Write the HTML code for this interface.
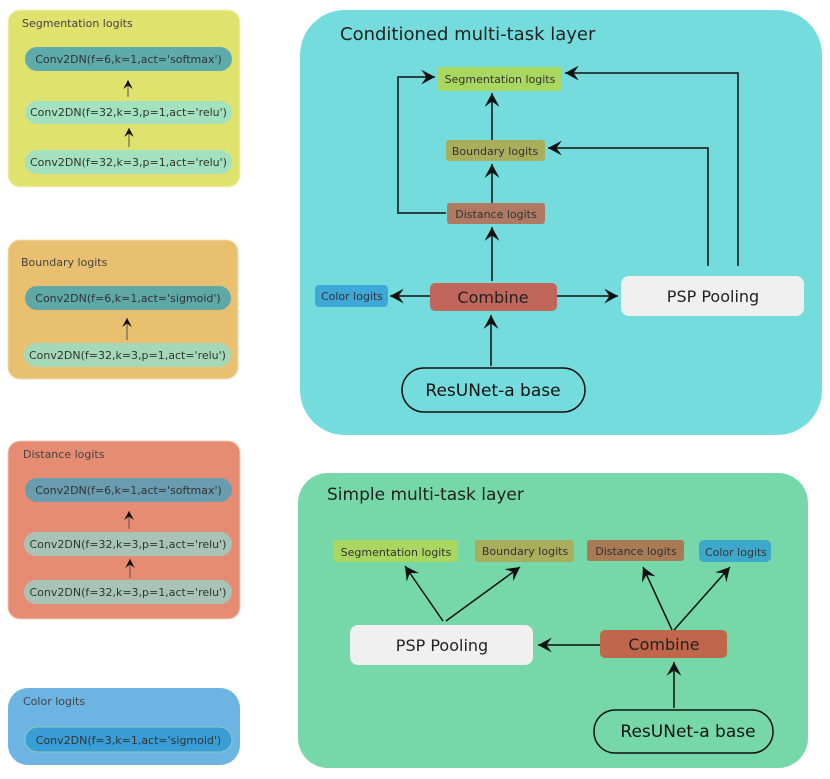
<!DOCTYPE html>
<html><head><meta charset="utf-8"><style>
html,body{margin:0;padding:0;background:#fff;}
svg{display:block;font-family:"DejaVu Sans","Liberation Sans",sans-serif;}
</style></head><body>
<svg width="830" height="779" viewBox="0 0 830 779" xmlns="http://www.w3.org/2000/svg">
<defs>
<marker id="a" viewBox="-14 -8 16 16" refX="0" refY="0" markerWidth="17" markerHeight="17" markerUnits="userSpaceOnUse" orient="auto">
<path d="M0,0 L-13,-7 L-8,0 L-13,7 Z" fill="#111"/>
</marker>
<marker id="s" viewBox="-14 -8 16 16" refX="0" refY="0" markerWidth="11" markerHeight="11" markerUnits="userSpaceOnUse" orient="auto">
<path d="M0,0 L-13,-7 L-8,0 L-13,7 Z" fill="#111"/>
</marker>
</defs>
<g font-size="11" fill="#333">
<rect x="8" y="10" width="232" height="177" rx="12" fill="#dfe36d" stroke="#f0f2c0"/>
<text x="22" y="27" fill="#444">Segmentation logits</text>
<rect x="25" y="47" width="207" height="24" rx="12" fill="#5eabab"/>
<text x="128.5" y="63" text-anchor="middle" fill="#333">Conv2DN(f=6,k=1,act='softmax')</text>
<rect x="25" y="101" width="207" height="23" rx="11.5" fill="#a4e2bf"/>
<text x="128.5" y="116" text-anchor="middle">Conv2DN(f=32,k=3,p=1,act='relu')</text>
<rect x="25" y="150" width="207" height="24" rx="12" fill="#a4e2bf"/>
<text x="128.5" y="166" text-anchor="middle">Conv2DN(f=32,k=3,p=1,act='relu')</text>
<line x1="128" y1="97" x2="128" y2="80" stroke="#555" marker-end="url(#s)"/>
<line x1="129" y1="147" x2="129" y2="128" stroke="#555" marker-end="url(#s)"/>
<rect x="8" y="240" width="230" height="139" rx="12" fill="#e8c070" stroke="#f3dcb0"/>
<text x="21" y="266" fill="#444">Boundary logits</text>
<rect x="25" y="286" width="206" height="24" rx="12" fill="#5fa8a8"/>
<text x="128" y="302" text-anchor="middle">Conv2DN(f=6,k=1,act='sigmoid')</text>
<rect x="24" y="343" width="207" height="24" rx="12" fill="#a4d8b8"/>
<text x="127.5" y="359" text-anchor="middle">Conv2DN(f=32,k=3,p=1,act='relu')</text>
<line x1="127" y1="340" x2="127" y2="318" stroke="#555" marker-end="url(#s)"/>
<rect x="8" y="441" width="232" height="178" rx="12" fill="#e68c72" stroke="#f3c8b8"/>
<text x="23" y="458" fill="#444">Distance logits</text>
<rect x="25" y="478" width="207" height="24" rx="12" fill="#6a9cb0"/>
<text x="128.5" y="494" text-anchor="middle">Conv2DN(f=6,k=1,act='softmax')</text>
<rect x="24" y="532" width="208" height="24" rx="12" fill="#a8c4b8"/>
<text x="128" y="548" text-anchor="middle">Conv2DN(f=32,k=3,p=1,act='relu')</text>
<rect x="24" y="580" width="208" height="24" rx="12" fill="#a8c4b8"/>
<text x="128" y="596" text-anchor="middle">Conv2DN(f=32,k=3,p=1,act='relu')</text>
<line x1="129" y1="529" x2="129" y2="511" stroke="#555" marker-end="url(#s)"/>
<line x1="130" y1="578" x2="130" y2="559" stroke="#555" marker-end="url(#s)"/>
<rect x="8" y="688" width="232" height="77" rx="20" fill="#6cb4e2"/>
<text x="23" y="705" fill="#444">Color logits</text>
<rect x="25" y="727" width="207" height="25" rx="12.5" fill="#3a9ed6" stroke="#8cc8c0"/>
<text x="128.5" y="744" text-anchor="middle">Conv2DN(f=3,k=1,act='sigmoid')</text>
</g>

<rect x="300" y="10" width="522" height="425" rx="45" fill="#74dcdc"/>
<text x="340" y="40" font-size="18" fill="#222">Conditioned multi-task layer</text>
<g font-size="11" fill="#333" text-anchor="middle">
<rect x="438" y="67" width="124" height="24" rx="3" fill="#a9d760"/>
<text x="500" y="83">Segmentation logits</text>
<rect x="446" y="140" width="99" height="21" rx="3" fill="#a8ae5c"/>
<text x="495" y="155">Boundary logits</text>
<rect x="447" y="203" width="98" height="21" rx="3" fill="#b07a62"/>
<text x="496" y="218">Distance logits</text>
<rect x="315" y="285" width="73" height="22" rx="4" fill="#3ea8d8"/>
<text x="352" y="300">Color logits</text>
</g>
<rect x="430" y="283" width="127" height="28" rx="5" fill="#c0665a"/>
<text x="493" y="303" font-size="16" text-anchor="middle" fill="#222">Combine</text>
<rect x="621" y="276" width="183" height="40" rx="8" fill="#f0f0f0"/>
<text x="713" y="302" font-size="16" text-anchor="middle" fill="#222">PSP Pooling</text>
<rect x="402" y="368" width="183" height="44" rx="22" fill="none" stroke="#111" stroke-width="1.5"/>
<text x="493" y="396" font-size="17" text-anchor="middle" fill="#111">ResUNet-a base</text>
<g stroke="#111" stroke-width="1.5" fill="none">
<line x1="492" y1="281" x2="492" y2="227" marker-end="url(#a)"/>
<line x1="492" y1="203" x2="492" y2="164" marker-end="url(#a)"/>
<line x1="492" y1="140" x2="492" y2="93" marker-end="url(#a)"/>
<polyline points="446,213 398,213 398,77 435,77" marker-end="url(#a)"/>
<polyline points="708,266 708,148 548,148" marker-end="url(#a)"/>
<polyline points="738,266 738,73 565,73" marker-end="url(#a)"/>
<line x1="430" y1="296" x2="390" y2="296" marker-end="url(#a)"/>
<line x1="557" y1="296" x2="618" y2="296" marker-end="url(#a)"/>
<line x1="491" y1="366" x2="491" y2="315" marker-end="url(#a)"/>
</g>

<rect x="298" y="473" width="510" height="295" rx="30" fill="#76d8a8"/>
<text x="327" y="500" font-size="17" fill="#222">Simple multi-task layer</text>
<g font-size="11" fill="#333" text-anchor="middle">
<rect x="333" y="540" width="125" height="22" rx="3" fill="#a9d760"/>
<text x="396" y="556">Segmentation logits</text>
<rect x="475" y="540" width="99" height="22" rx="3" fill="#a8ae5c"/>
<text x="525" y="555">Boundary logits</text>
<rect x="587" y="540" width="97" height="21" rx="3" fill="#a97a56"/>
<text x="636" y="555">Distance logits</text>
<rect x="699" y="540" width="72" height="22" rx="5" fill="#3ea8cc"/>
<text x="736" y="556">Color logits</text>
</g>
<rect x="350" y="625" width="183" height="40" rx="8" fill="#f0f0f0"/>
<text x="442" y="651" font-size="16" text-anchor="middle" fill="#222">PSP Pooling</text>
<rect x="600" y="630" width="127" height="28" rx="5" fill="#c0664a"/>
<text x="664" y="650" font-size="16" text-anchor="middle" fill="#222">Combine</text>
<rect x="594" y="710" width="179" height="43" rx="21" fill="none" stroke="#111" stroke-width="1.5"/>
<text x="688" y="737" font-size="17" text-anchor="middle" fill="#111">ResUNet-a base</text>
<g stroke="#111" stroke-width="1.5" fill="none">
<line x1="443" y1="621" x2="405" y2="566" marker-end="url(#a)"/>
<line x1="446" y1="621" x2="520" y2="567" marker-end="url(#a)"/>
<line x1="672" y1="630" x2="643" y2="567" marker-end="url(#a)"/>
<line x1="674" y1="630" x2="730" y2="567" marker-end="url(#a)"/>
<line x1="600" y1="645" x2="538" y2="645" marker-end="url(#a)"/>
<line x1="674" y1="708" x2="674" y2="662" marker-end="url(#a)"/>
</g>
</svg>
</body></html>
